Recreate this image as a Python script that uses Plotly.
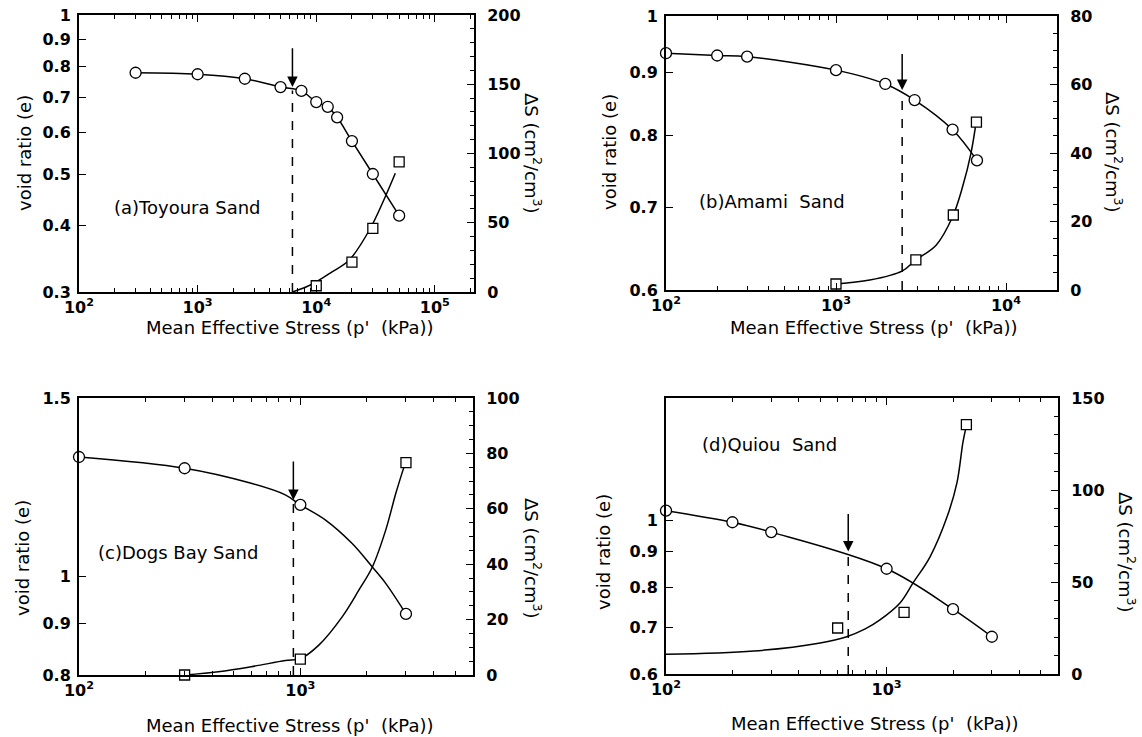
import numpy as np
import plotly.graph_objects as go

W, H = 1142, 737
FONT = "DejaVu Sans"

# ---------------- data ----------------
# (a) Toyoura Sand
a_p_e = [300, 1000, 2500, 5000, 7500, 10000, 12500, 15000, 20000, 30000, 50000]
a_e = [0.778, 0.773, 0.758, 0.731, 0.719, 0.685, 0.671, 0.641, 0.578, 0.501, 0.418]
a_p_s = [10000, 20000, 30000, 50000]
a_s = [4.5, 21.5, 46, 94]
a_fit_p = [6300, 9300, 13700, 19000, 28100, 37700, 46400]
a_fit_s = [0, 5.8, 14.7, 23.1, 44.8, 67.7, 85.7]
a_crit = [6300, 0.72, 0.731, 0.871]      # p', e at curve, arrow tip e, arrow tail e

# (b) Amami Sand
b_p_e = [100, 200, 300, 1000, 1950, 2900, 4850, 6750]
b_e = [0.933, 0.929, 0.927, 0.904, 0.881, 0.855, 0.809, 0.764]
b_p_s = [1000, 2950, 4900, 6700]
b_s = [1.75, 8.8, 21.9, 49]
b_fit_p = [1000, 1580, 2460, 2950, 3880, 4850, 5560, 6220, 6660]
b_fit_s = [1.75, 2.9, 5.6, 8.8, 13.1, 21.4, 30.2, 39.9, 48.7]
b_crit = [2450, 0.866, 0.871, 0.934]

# (c) Dogs Bay Sand
c_p_e = [100, 300, 1000, 3000]
c_e = [1.312, 1.279, 1.177, 0.919]
c_fit_pe = [100, 300, 600, 855, 1000, 1300, 1715, 2115, 2430, 3000]
c_fit_e = [1.312, 1.279, 1.236, 1.204, 1.177, 1.137, 1.078, 1.022, 0.985, 0.919]
c_p_s = [300, 1000, 3000]
c_s = [0, 5.7, 76.7]
c_fit_p = [300, 426, 600, 855, 1000, 1212, 1545, 1840, 2115, 2430, 2700, 2950]
c_fit_s = [0, 1.2, 3, 5.2, 5.9, 10.8, 21, 30.7, 39, 52.3, 65.6, 75.5]
c_crit = [930, 1.185, 1.19, 1.303]

# (d) Quiou Sand
d_p_e = [100, 200, 300, 1000, 2000, 3000]
d_e = [1.032, 0.993, 0.961, 0.851, 0.744, 0.679]
d_p_s = [600, 1200, 2300]
d_s = [25, 33.5, 135.5]
d_fit_p = [100, 250, 500, 654, 800, 933, 1150, 1318, 1574, 1880, 2085, 2219, 2300]
d_fit_s = [10.7, 12.5, 16.9, 20.1, 24.5, 29.4, 38.6, 49.5, 63.7, 85.4, 104, 126, 135]
d_crit = [670, 0.9, 0.901, 1.026]

labels = ["(a)Toyoura Sand", "(b)Amami  Sand", "(c)Dogs Bay Sand", "(d)Quiou  Sand"]
label_pos = [(190, 0.433), (152, 0.708), (119, 1.056), (143, 1.285)]

x_title = "Mean Effective Stress (p'  (kPa))"
y_title = "void ratio (e)"
y2_title = "ΔS (cm<sup>2</sup>/cm<sup>3</sup>)"

# ---------------- layout geometry (pixels) ----------------
panels = [
    dict(xd=(79, 474), yd=(15, 292), xr=(2, 5.33), yr=(0.3, 1.0), y2r=(0, 200), y2dt=50, y2m=10,
         ytv=[0.3, 0.4, 0.5, 0.6, 0.7, 0.8, 0.9, 1], xtv=[100, 1000, 10000, 100000],
         pe=a_p_e, e=a_e, fpe=a_p_e, fe=a_e, ps=a_p_s, s=a_s, fps=a_fit_p, fs=a_fit_s, crit=a_crit,
         ltx=24, rtx=533, tcy=153, xtx=289, xty=327),
    dict(xd=(666, 1057), yd=(16, 290), xr=(2, 4.3), yr=(0.6, 1.0), y2r=(0, 80), y2dt=20, y2m=5,
         ytv=[0.6, 0.7, 0.8, 0.9, 1], xtv=[100, 1000, 10000],
         pe=b_p_e, e=b_e, fpe=b_p_e, fe=b_e, ps=b_p_s, s=b_s, fps=b_fit_p, fs=b_fit_s, crit=b_crit,
         ltx=610, rtx=1114, tcy=152, xtx=873, xty=327),
    dict(xd=(79, 473), yd=(398, 675), xr=(2, 3.78), yr=(0.8, 1.5), y2r=(0, 100), y2dt=20, y2m=5,
         ytv=[0.8, 0.9, 1, 1.5], xtv=[100, 1000],
         pe=c_p_e, e=c_e, fpe=c_fit_pe, fe=c_fit_e, ps=c_p_s, s=c_s, fps=c_fit_p, fs=c_fit_s, crit=c_crit,
         ltx=22, rtx=533, tcy=558, xtx=289, xty=725),
    dict(xd=(666, 1058), yd=(398, 674), xr=(2, 3.777), yr=(0.6, 1.5), y2r=(0, 150), y2dt=50, y2m=10,
         ytv=[0.6, 0.7, 0.8, 0.9, 1], xtv=[100, 1000],
         pe=d_p_e, e=d_e, fpe=d_p_e, fe=d_e, ps=d_p_s, s=d_s, fps=d_fit_p, fs=d_fit_s, crit=d_crit,
         ltx=603, rtx=1127, tcy=552, xtx=874, xty=723),
]


def fmt(v):
    return ("%g" % v)


def sup_label(v):
    return "10<sup>%d</sup>" % int(round(np.log10(v)))


tickfont = dict(family=FONT, size=16, color="black", weight="bold")
textfont = dict(family=FONT, size=18, color="black")

fig = go.Figure()
annotations = []
layout = {}

for i, P in enumerate(panels):
    n = i + 1
    xa = "x" if n == 1 else "x%d" % n
    ya = "y" if n == 1 else "y%d" % (2 * n - 1)
    yb = "y%d" % (2 * n)
    xkey = "xaxis" if n == 1 else "xaxis%d" % n
    ykey = "yaxis" if n == 1 else "yaxis%d" % (2 * n - 1)
    ykey2 = "yaxis%d" % (2 * n)

    xdom = [P["xd"][0] / W, P["xd"][1] / W]
    ydom = [1 - P["yd"][1] / H, 1 - P["yd"][0] / H]

    lo, hi = P["xr"]
    minor_x = [k * 10 ** m for m in range(int(lo), int(np.ceil(hi)) + 1) for k in range(2, 10)
               if lo <= np.log10(k * 10 ** m) <= hi]

    layout[xkey] = dict(
        type="log", domain=xdom, range=list(P["xr"]), anchor=ya,
        showline=True, linewidth=2, linecolor="black", mirror="ticks",
        ticks="inside", ticklen=7, tickwidth=1.3, tickcolor="black",
        tickmode="array", tickvals=P["xtv"], ticktext=[sup_label(v) for v in P["xtv"]],
        minor=dict(ticks="inside", ticklen=4, tickwidth=1, tickcolor="black",
                   tickmode="array", tickvals=minor_x),
        showgrid=False, zeroline=False, tickfont=tickfont, ticklabelstandoff=0,
        automargin=False,
    )
    layout[ykey] = dict(
        type="log", domain=ydom, range=[np.log10(P["yr"][0]), np.log10(P["yr"][1])], anchor=xa,
        showline=True, linewidth=2, linecolor="black", mirror=True,
        ticks="inside", ticklen=7, tickwidth=1.3, tickcolor="black",
        tickmode="array", tickvals=P["ytv"], ticktext=[fmt(v) for v in P["ytv"]],
        showgrid=False, zeroline=False, tickfont=tickfont, ticklabelstandoff=3,
        automargin=False,
    )
    layout[ykey2] = dict(
        overlaying=ya, side="right", anchor=xa, range=list(P["y2r"]),
        showline=True, linewidth=2, linecolor="black",
        ticks="inside", ticklen=7, tickwidth=1.3, tickcolor="black",
        tickmode="linear", tick0=0, dtick=P["y2dt"],
        minor=dict(ticks="inside", ticklen=4, tickwidth=1, tickcolor="black", dtick=P["y2m"]),
        showgrid=False, zeroline=False, tickfont=tickfont, ticklabelstandoff=8,
        automargin=False,
    )

    line = dict(color="black", width=1.5)
    # e fitted curve
    fig.add_trace(go.Scatter(x=P["fpe"], y=P["fe"], mode="lines", line=dict(line, shape="spline", smoothing=1.0),
                             xaxis=xa, yaxis=ya, showlegend=False, hoverinfo="skip"))
    # dS fitted curve
    fig.add_trace(go.Scatter(x=P["fps"], y=P["fs"], mode="lines", line=dict(line, shape="spline", smoothing=1.0),
                             xaxis=xa, yaxis=yb, showlegend=False, hoverinfo="skip"))
    # dashed threshold line
    cp, ce, ctip, ctail = P["crit"]
    fig.add_trace(go.Scatter(x=[cp, cp], y=[P["yr"][0], ce], mode="lines",
                             line=dict(color="black", width=1.5, dash="dash"),
                             xaxis=xa, yaxis=ya, showlegend=False, hoverinfo="skip"))
    # circles (void ratio)
    fig.add_trace(go.Scatter(x=P["pe"], y=P["e"], mode="markers",
                             marker=dict(symbol="circle", size=11, color="white",
                                         line=dict(color="black", width=1.3)),
                             xaxis=xa, yaxis=ya, showlegend=False, cliponaxis=False))
    # squares (dS)
    fig.add_trace(go.Scatter(x=P["ps"], y=P["s"], mode="markers",
                             marker=dict(symbol="square", size=10, color="white",
                                         line=dict(color="black", width=1.3)),
                             xaxis=xa, yaxis=yb, showlegend=False, cliponaxis=False))

    # arrow
    annotations.append(dict(
        x=np.log10(cp), y=np.log10(ctip), ax=np.log10(cp), ay=np.log10(ctail),
        xref=xa, yref=ya, axref=xa, ayref=ya, showarrow=True, arrowhead=2,
        arrowsize=1.4, arrowwidth=1.5, arrowcolor="black", standoff=0, text=""))

    # panel label
    lx, ly = label_pos[i]
    annotations.append(dict(x=np.log10(lx), y=np.log10(ly), xref=xa, yref=ya, text=labels[i],
                            showarrow=False, xanchor="left", yanchor="middle", font=textfont))

    # axis titles
    annotations.append(dict(x=P["ltx"] / W, y=1 - P["tcy"] / H, xref="paper", yref="paper",
                            text=y_title, textangle=-90, showarrow=False,
                            xanchor="center", yanchor="middle", font=textfont))
    annotations.append(dict(x=P["rtx"] / W, y=1 - P["tcy"] / H, xref="paper", yref="paper",
                            text=y2_title, textangle=90, showarrow=False,
                            xanchor="center", yanchor="middle", font=textfont))
    annotations.append(dict(x=P["xtx"] / W, y=1 - P["xty"] / H, xref="paper", yref="paper",
                            text=x_title, showarrow=False,
                            xanchor="center", yanchor="middle", font=textfont))

fig.update_layout(
    width=W, height=H, margin=dict(l=0, r=0, t=0, b=0),
    paper_bgcolor="white", plot_bgcolor="white",
    annotations=annotations, showlegend=False,
    font=dict(family=FONT, color="black"),
    **layout,
)

fig.write_html("out.html", config={"displayModeBar": False},
               post_script="document.body.style.margin='0';document.body.style.overflow='hidden';")
